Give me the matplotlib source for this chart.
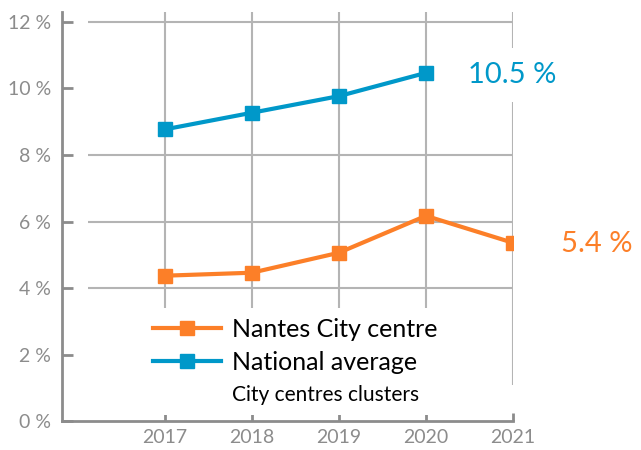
import matplotlib
matplotlib.use("Agg")
import matplotlib.pyplot as plt
from matplotlib.lines import Line2D

plt.rcParams['font.family'] = ['Lato', 'DejaVu Sans']

years = [2017, 2018, 2019, 2020, 2021]
nantes_years = [2017, 2018, 2019, 2020, 2021]
nantes = [4.37, 4.46, 5.06, 6.17, 5.36]
national_years = [2017, 2018, 2019, 2020]
national = [8.77, 9.27, 9.77, 10.47]
yticks = [0, 2, 4, 6, 8, 10, 12]
ytick_labels = ["0 %", "2 %", "4 %", "6 %", "8 %", "10 %", "12 %"]
grid_levels = [4, 6, 8, 12]  # 2 % and 10 % lines are hidden in the original
label_nantes = "Nantes City centre"
label_national = "National average"
label_national_2 = "City centres clusters"
last_nantes = "5.4 %"
last_national = "10.5 %"

orange = "#fc7f28"
blue = "#0098c9"
grey = "#8c8c8c"
grid_c = "#b4b4b4"

fig = plt.figure(figsize=(6.41, 4.5), dpi=100)
ax = fig.add_axes([0.0967, 0.0644, 0.7036, 0.9089])
ax.set_xlim(2015.82, 2021)
ax.set_ylim(0, 12.3)

# grid lines (drawn by hand, they do not start at the spine)
for y in grid_levels:
    ax.hlines(y, 2016.115, 2021, color=grid_c, lw=1.5, zorder=1)
for x in years:
    ax.vlines(x, 1.08, 12.3, color=grid_c, lw=1.5, zorder=1)

ax.plot(nantes_years, nantes, color=orange, lw=3, marker="s", ms=9.5, zorder=3)
ax.plot(national_years, national, color=blue, lw=3, marker="s", ms=9.5, zorder=3)

ax.text(2020.48, national[-1] - 0.05, last_national, color=blue, fontsize=21,
        va="center", ha="left", clip_on=False, zorder=4,
        bbox=dict(facecolor="white", edgecolor="none", pad=10))
ax.text(2021.55, nantes[-1] - 0.03, last_nantes, color=orange, fontsize=21,
        va="center", ha="left", clip_on=False, zorder=4)

for s in ["top", "right"]:
    ax.spines[s].set_visible(False)
for s in ["left", "bottom"]:
    ax.spines[s].set_color(grey)
    ax.spines[s].set_linewidth(2)

ax.set_yticks(yticks)
ax.set_yticklabels(ytick_labels)
ax.set_xticks(years)
ax.set_xticklabels([str(y) for y in years])
ax.tick_params(axis="both", direction="in", colors=grey, labelcolor=grey,
               labelsize=14, width=2)
ax.tick_params(axis="y", length=8, pad=8)
ax.tick_params(axis="x", length=6, pad=6)

handles = [
    Line2D([], [], color=orange, lw=3, marker="s", ms=9.5),
    Line2D([], [], color=blue, lw=3, marker="s", ms=9.5),
    Line2D([], [], linestyle="none"),
]
leg = ax.legend(handles, [label_nantes, label_national, label_national_2],
                loc="upper left", bbox_to_anchor=(0.153, 0.308),
                fontsize=18, frameon=True, facecolor="white", edgecolor="none",
                framealpha=1, fancybox=False, handlelength=2.7,
                handletextpad=0.45, labelspacing=0.4, borderpad=0.4)
leg.set_zorder(2)
leg.get_texts()[2].set_fontsize(15)

fig.savefig("out.png", dpi=100)
